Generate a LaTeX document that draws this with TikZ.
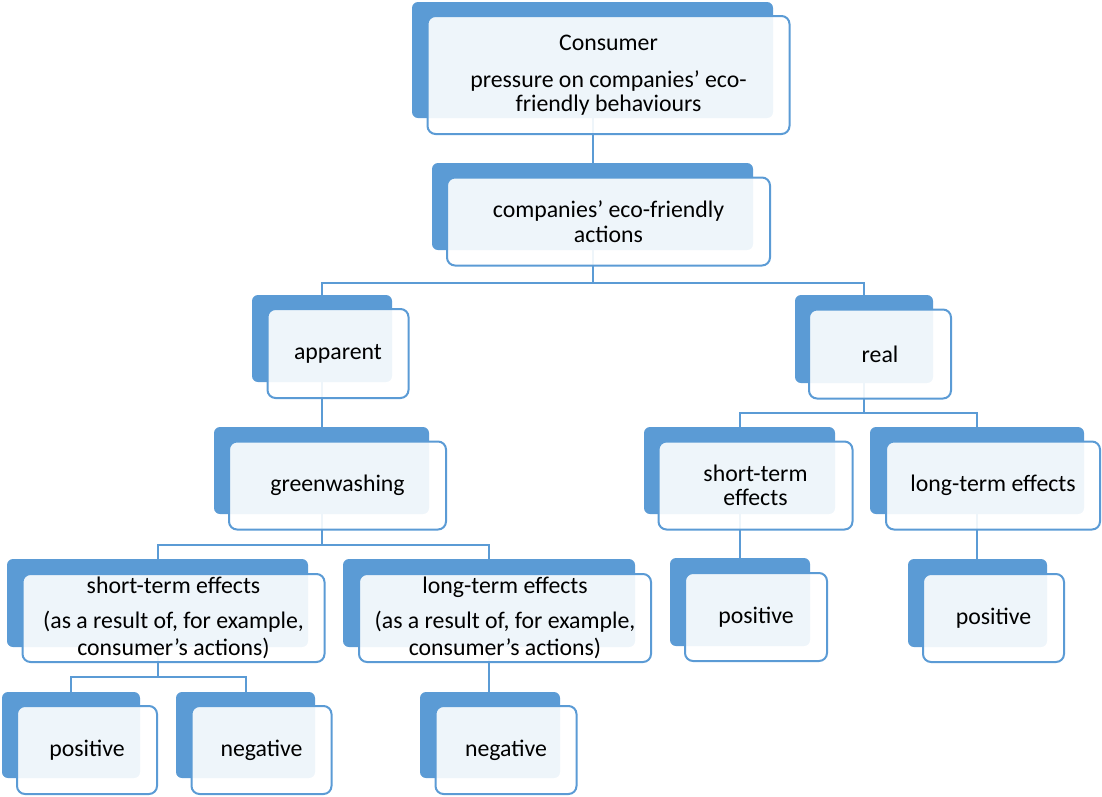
\documentclass[tikz,border=0pt]{standalone}
\usepackage{fontspec}
\setmainfont{Carlito}
\usetikzlibrary{positioning}
\definecolor{ChartBlue}{HTML}{5B9BD5}

\begin{document}
\begin{tikzpicture}[x=1pt,y=-1pt,
  backcard/.style={fill=ChartBlue,rounded corners=6pt,inner sep=0pt,outer sep=0pt},
  frontcard/.style={draw=ChartBlue,line width=2pt,rounded corners=8pt,fill=white,fill opacity=0.9,text opacity=1,
    inner sep=0pt,outer sep=0pt,align=center,xshift=16pt,yshift=-15pt,font=\fontsize{23.8}{24.5}\selectfont},
  link/.style={draw=ChartBlue,line width=2pt}
]
\useasboundingbox (0,0) rectangle (1102,796);
% back plates
\node[backcard,minimum width=361,minimum height=116] (consumerbk) at (592.5,60) {};
\node[backcard,minimum width=321,minimum height=87] (actionsbk) at (592.5,206.5) {};
\node[backcard,minimum width=140,minimum height=87] (apparentbk) at (322,338.5) {};
\node[backcard,minimum width=138,minimum height=88] (realbk) at (864,339) {};
\node[backcard,minimum width=215,minimum height=87] (greenbk) at (321.5,470.5) {};
\node[backcard,minimum width=191,minimum height=87] (rshortbk) at (739.5,470.5) {};
\node[backcard,minimum width=214,minimum height=87] (rlongbk) at (977,470.5) {};
\node[backcard,minimum width=301,minimum height=88] (gshortbk) at (157.5,603) {};
\node[backcard,minimum width=292,minimum height=88] (glongbk) at (489,603) {};
\node[backcard,minimum width=140,minimum height=88] (rsposbk) at (740,602) {};
\node[backcard,minimum width=139,minimum height=88] (rlposbk) at (977.5,603) {};
\node[backcard,minimum width=138,minimum height=86] (gsposbk) at (71,735) {};
\node[backcard,minimum width=139,minimum height=86] (gsnegbk) at (245.5,735) {};
\node[backcard,minimum width=140,minimum height=86] (glnegbk) at (490,735) {};
% links
\draw[link] (consumerbk.south) -- (consumerbk.south |- actionsbk.north);
\draw[link] (actionsbk.south) -- ++(0,33) -| (apparentbk.north);
\draw[link] (actionsbk.south) -- ++(0,33) -| (realbk.north);
\draw[link] (apparentbk.south) -- (apparentbk.south |- greenbk.north);
\draw[link] (greenbk.south) -- ++(0,31) -| (gshortbk.north);
\draw[link] (greenbk.south) -- ++(0,31) -| (glongbk.north);
\draw[link] (realbk.south) -- ++(0,30) -| (rshortbk.north);
\draw[link] (realbk.south) -- ++(0,30) -| (rlongbk.north);
\draw[link] (gshortbk.south) -- ++(0,30) -| (gsposbk.north);
\draw[link] (gshortbk.south) -- ++(0,30) -| (gsnegbk.north);
\draw[link] (glongbk.south) -- (glongbk.south |- glnegbk.north);
\draw[link] (rshortbk.south) -- (rshortbk.south |- rsposbk.north);
\draw[link] (rlongbk.south) -- (rlongbk.south |- rlposbk.north);
% front cards
\node[frontcard,minimum width=362,minimum height=118] (consumer) at (consumerbk) {Consumer\\[12.5pt]pressure on companies’ eco-\\friendly behaviours};
\node[frontcard,minimum width=323,minimum height=88] (actions) at (actionsbk) {companies’ eco-friendly\\actions};
\node[frontcard,minimum width=141,minimum height=89] (apparent) at (apparentbk) {apparent};
\node[frontcard,minimum width=142,minimum height=89] (real) at (realbk) {real};
\node[frontcard,minimum width=217,minimum height=88] (green) at (greenbk) {greenwashing};
\node[frontcard,minimum width=194,minimum height=88] (rshort) at (rshortbk) {short-term\\effects};
\node[frontcard,minimum width=214,minimum height=88] (rlong) at (rlongbk) {long-term effects};
\node[frontcard,minimum width=302,minimum height=88] (gshort) at (gshortbk) {short-term effects\\[11pt](as a result of, for example,\\[2.5pt]consumer’s actions)};
\node[frontcard,minimum width=292,minimum height=88] (glong) at (glongbk) {long-term effects\\[11pt](as a result of, for example,\\[2.5pt]consumer’s actions)};
\node[frontcard,minimum width=142,minimum height=88] (rspos) at (rsposbk) {positive};
\node[frontcard,minimum width=141,minimum height=88] (rlpos) at (rlposbk) {positive};
\node[frontcard,minimum width=140,minimum height=88] (gspos) at (gsposbk) {positive};
\node[frontcard,minimum width=140,minimum height=88] (gsneg) at (gsnegbk) {negative};
\node[frontcard,minimum width=141,minimum height=88] (glneg) at (glnegbk) {negative};
\end{tikzpicture}
\end{document}
